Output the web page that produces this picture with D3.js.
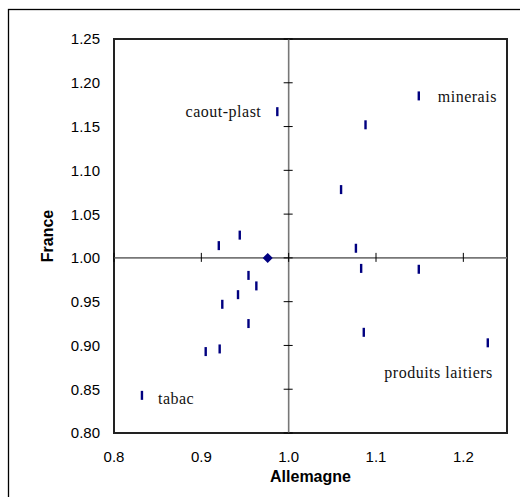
<!DOCTYPE html>
<html><head><meta charset="utf-8">
<script src="https://cdn.jsdelivr.net/npm/d3@7"></script>
<style>body{margin:0;background:#fff}svg{display:block}</style>
</head><body>
<script>
// Data: Allemagne (x) vs France (y) indices
const allemagne = [0.944,0.920,0.954,0.963,0.942,0.924,0.954,0.905,0.921,0.832,1.149,1.088,1.060,1.077,1.083,1.149,1.086,1.228,0.987];
const france    = [1.026,1.014,0.980,0.968,0.958,0.947,0.925,0.893,0.896,0.843,1.185,1.152,1.078,1.011,0.988,0.987,0.915,0.903,1.167];
const reference = {x:0.976, y:1.0};
const xTicks = [0.8,0.9,1.0,1.1,1.2];
const yTicks = [0.80,0.85,0.90,0.95,1.00,1.05,1.10,1.15,1.20,1.25];
const labels = [
  {text:"caout-plast", x:0.987, y:1.167},
  {text:"minerais", x:1.149, y:1.185},
  {text:"tabac", x:0.832, y:0.843},
  {text:"produits laitiers", x:1.228, y:0.903}
];

const W=520,H=497;
const L=114,T=39,R=507,B=433;
const svg=d3.select("body").append("svg").attr("width",W).attr("height",H);

// outer frame
svg.append("rect").attr("x",8.5).attr("y",9.5).attr("width",600).attr("height",600)
  .attr("fill","none").attr("stroke","#000").attr("stroke-width",1.3);

const x=d3.scaleLinear().domain([0.8,1.25]).range([L,R]);
const y=d3.scaleLinear().domain([0.8,1.25]).range([B,T]);

// plot border
svg.append("rect").attr("x",L).attr("y",T).attr("width",R-L).attr("height",B-T)
  .attr("fill","none").attr("stroke","#222").attr("stroke-width",2);

// crosshair axes at 1.0
const g=svg.append("g");
g.append("line").attr("x1",x(1.0)).attr("x2",x(1.0)).attr("y1",T).attr("y2",B)
  .attr("stroke","#777").attr("stroke-width",1.6);
g.append("line").attr("x1",L).attr("x2",R).attr("y1",y(1.0)).attr("y2",y(1.0))
  .attr("stroke","#777").attr("stroke-width",1.6);

// ticks crossing the axes
g.selectAll("line.yt").data(yTicks).enter().append("line").attr("class","yt")
  .attr("x1",x(1.0)-5).attr("x2",x(1.0)+4).attr("y1",d=>y(d)).attr("y2",d=>y(d))
  .attr("stroke","#000").attr("stroke-width",1);
g.selectAll("line.xt").data(xTicks).enter().append("line").attr("class","xt")
  .attr("x1",d=>x(d)).attr("x2",d=>x(d)).attr("y1",y(1.0)-5).attr("y2",y(1.0)+4)
  .attr("stroke","#000").attr("stroke-width",1);

// tick labels (low position)
svg.selectAll("text.yl").data(yTicks).enter().append("text").attr("class","yl")
  .attr("x",100).attr("y",d=>y(d)).attr("dy","0.36em").attr("text-anchor","end")
  .attr("font-family","Liberation Sans, Arial, sans-serif").attr("font-size",15)
  .text(d=>d3.format(".2f")(d));
svg.selectAll("text.xl").data(xTicks).enter().append("text").attr("class","xl")
  .attr("x",d=>x(d)).attr("y",462).attr("text-anchor","middle")
  .attr("font-family","Liberation Sans, Arial, sans-serif").attr("font-size",15)
  .text(d=>d3.format(".1f")(d));

// axis titles
svg.append("text").attr("x",(L+R)/2).attr("y",482).attr("text-anchor","middle")
  .attr("font-family","Liberation Sans, Arial, sans-serif").attr("font-size",16).attr("font-weight","bold")
  .text("Allemagne");
svg.append("text").attr("transform",`translate(52.5,${(T+B)/2}) rotate(-90)`).attr("text-anchor","middle")
  .attr("font-family","Liberation Sans, Arial, sans-serif").attr("font-size",16).attr("font-weight","bold")
  .text("France");

// markers: vertical dashes
svg.selectAll("rect.pt").data(allemagne.map((a,i)=>({a,f:france[i]}))).enter().append("rect").attr("class","pt")
  .attr("x",d=>x(d.a)-1.2).attr("y",d=>y(d.f)-4.5).attr("width",2.4).attr("height",9)
  .attr("fill","#000080");

// reference diamond
svg.append("path").attr("d","M0,-5L5,0L0,5L-5,0Z")
  .attr("transform",`translate(${x(reference.x)},${y(reference.y)})`)
  .attr("fill","#000080");

// labels
const offs={"caout-plast":[-16,5,"end"],"minerais":[19,6,"start"],"tabac":[16,9,"start"],"produits laitiers":[5,35,"end"]};
svg.selectAll("text.lab").data(labels).enter().append("text").attr("class","lab")
  .attr("x",d=>x(d.x)+offs[d.text][0]).attr("y",d=>y(d.y)+offs[d.text][1])
  .attr("text-anchor",d=>offs[d.text][2])
  .attr("font-family","Liberation Serif, Times New Roman, serif").attr("font-size",16)
  .attr("letter-spacing",0.5).attr("fill","#111")
  .text(d=>d.text);
</script>
</body></html>
